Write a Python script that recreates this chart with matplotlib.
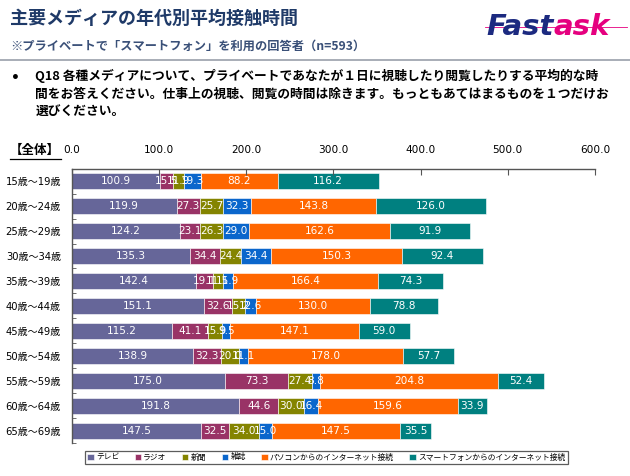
import numpy as np
import matplotlib
matplotlib.use("Agg")
from matplotlib import pyplot as plt

plt.rcParams['font.family'] = ['DejaVu Sans', 'Noto Sans CJK JP']

# data
ages = ["15歳～19歳", "20歳～24歳", "25歳～29歳", "30歳～34歳", "35歳～39歳",
        "40歳～44歳", "45歳～49歳", "50歳～54歳", "55歳～59歳", "60歳～64歳",
        "65歳～69歳"]
media = ["テレビ", "ラジオ", "新聞", "雑誌", "パソコンからのインターネット接続",
         "スマートフォンからのインターネット接続"]
tv = [100.9, 119.9, 124.2, 135.3, 142.4, 151.1, 115.2, 138.9, 175.0, 191.8, 147.5]
radio = [15.5, 27.3, 23.1, 34.4, 19.1, 32.6, 41.1, 32.3, 73.3, 44.6, 32.5]
paper = [11.9, 25.7, 26.3, 24.4, 11.5, 15.2, 15.9, 20.0, 27.4, 30.0, 34.0]
magazine = [19.3, 32.3, 29.0, 34.4, 11.9, 12.6, 9.5, 11.1, 8.8, 16.4, 15.0]
pc_net = [88.2, 143.8, 162.6, 150.3, 166.4, 130.0, 147.1, 178.0, 204.8, 159.6, 147.5]
sp_net = [116.2, 126.0, 91.9, 92.4, 74.3, 78.8, 59.0, 57.7, 52.4, 33.9, 35.5]
xticks = [0, 100, 200, 300, 400, 500, 600]

series = [tv, radio, paper, magazine, pc_net, sp_net]
colors = ["#666699", "#993366", "#848400", "#0a66cc", "#ff6600", "#008080"]

fig = plt.figure(figsize=(6.3, 4.76), dpi=100)

# header
fig.text(0.016, 0.962, "主要メディアの年代別平均接触時間", fontsize=13, fontweight='bold',
         color='#1f3a68', family=['Noto Sans CJK JP'], va='center')
fig.text(0.016, 0.902, "※プライベートで「スマートフォン」を利用の回答者（n=593）", fontsize=8.8,
         fontweight='bold', color='#3a5078', family=['Noto Sans CJK JP'], va='center')
fig.add_artist(plt.Line2D([0.0, 1.0], [0.873, 0.873], color='#9aa0aa', lw=1.2))

# logo
fig.text(0.772, 0.943, "Fast", fontsize=21, fontweight='bold', fontstyle='italic',
         color='#1c2a80', va='center', family=['DejaVu Sans'])
fig.text(0.878, 0.943, "ask", fontsize=21, fontweight='bold', fontstyle='italic',
         color='#e5007f', va='center', family=['DejaVu Sans'])
fig.add_artist(plt.Line2D([0.77, 0.995], [0.943, 0.943], color='#e5007f', lw=0.6))

# question
fig.text(0.018, 0.836, "•", fontsize=10, fontweight='bold', va='center')
q = ("Q18 各種メディアについて、プライベートであなたが１日に視聴したり閲覧したりする平均的な時\n"
     "間をお答えください。仕事上の視聴、閲覧の時間は除きます。もっともあてはまるものを１つだけお\n"
     "選びください。")
fig.text(0.056, 0.855, q, fontsize=9.2, fontweight='bold', va='top', linespacing=1.48,
         family=['Noto Sans CJK JP', 'DejaVu Sans'])

fig.text(0.016, 0.683, "【全体】", fontsize=9, fontweight='bold', va='center',
         family=['Noto Sans CJK JP'])
fig.add_artist(plt.Line2D([0.016, 0.097], [0.667, 0.667], color='black', lw=0.9))

ax = fig.add_axes([0.1143, 0.0693, 0.830, 0.5763])
y = np.arange(len(ages))
left = np.zeros(len(ages))
for vals, col, name in zip(series, colors, media):
    vals = np.array(vals)
    ax.barh(y, vals, left=left, height=0.64, color=col, edgecolor='white',
            linewidth=0.4, label=name)
    for yi, (l, v) in enumerate(zip(left, vals)):
        ax.text(l + v / 2, yi, f"{v:.1f}", ha='center', va='center', color='white',
                fontsize=7.6)
    left += vals

ax.set_ylim(10.5, -0.5)
ax.set_xlim(0, 600)
ax.xaxis.tick_top()
ax.set_xticks(xticks)
ax.set_xticklabels([f"{v:.1f}" for v in xticks], fontsize=7.6)
ax.tick_params(axis='x', direction='in', length=4, pad=10, color='#555555')
ax.set_yticks(y)
ax.set_yticklabels(ages, fontsize=7.2)
ax.tick_params(axis='y', length=0, pad=8)
ax.set_yticks(np.arange(-0.5, 11, 1), minor=True)
ax.tick_params(axis='y', which='minor', direction='in', length=3, color='#555555')
for s in ['right', 'bottom']:
    ax.spines[s].set_visible(False)
for s in ['top', 'left']:
    ax.spines[s].set_color('#555555')
    ax.spines[s].set_linewidth(1.0)

leg = fig.legend(loc='center', bbox_to_anchor=(0.518, 0.039), ncol=6,
                 frameon=True, fancybox=False, edgecolor='#333333', handlelength=0.8,
                 handleheight=0.8, handletextpad=0.3, columnspacing=2.0,
                 borderpad=0.35, prop={'family': ['Noto Sans CJK JP'], 'size': 5.6})
leg.get_frame().set_linewidth(0.9)

fig.savefig("out.png", dpi=100)
